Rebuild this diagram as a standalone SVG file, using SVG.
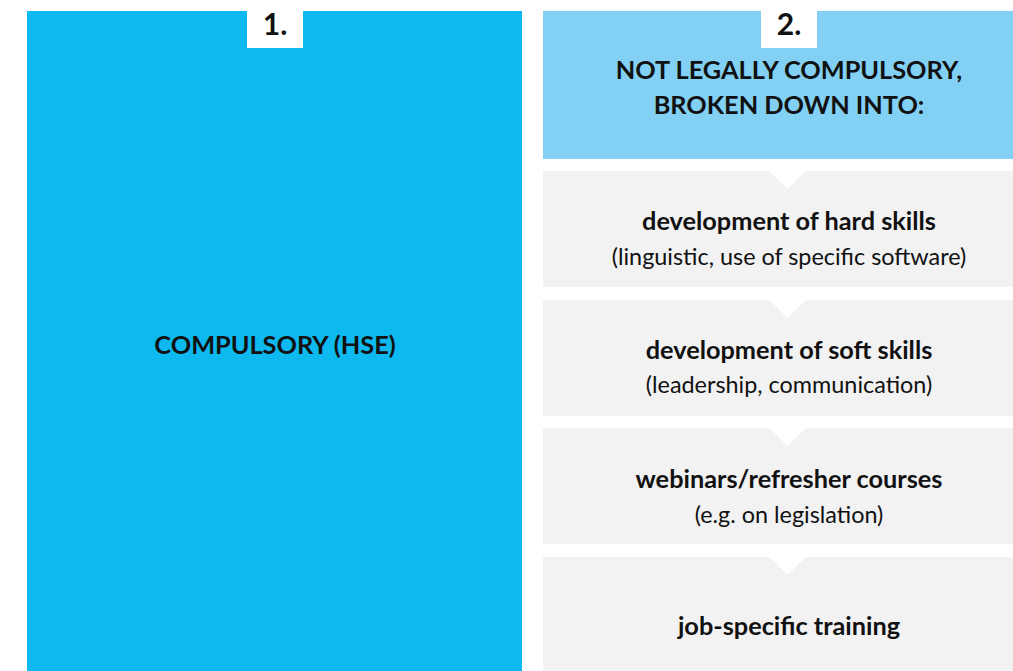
<svg xmlns="http://www.w3.org/2000/svg" width="1013" height="671" viewBox="0 0 1013 671">
<style>
.t{font-family:"Lato","Liberation Sans",sans-serif;fill:#111;text-anchor:middle;font-size:23.4px}
.b{font-weight:700;font-size:25.3px}
.gray{fill:#f2f2f2}
.notch{fill:#ffffff}
</style>
<rect width="1013" height="671" fill="#ffffff"/>
<g id="node-compulsory">
<rect x="27" y="11" width="495" height="660" fill="#0db9ee"/>
<rect x="247" y="0" width="56" height="48" fill="#ffffff"/>
<text class="t b" x="275" y="35" style="font-size:30px">1.</text>
<text class="t b" x="275" y="354">COMPULSORY (HSE)</text>
</g>
<g id="node-not-compulsory">
<rect x="543" y="11" width="470" height="148" fill="#83d0f5"/>
<rect x="761" y="0" width="56" height="48" fill="#ffffff"/>
<text class="t b" x="789" y="35" style="font-size:30px">2.</text>
<text class="t b" x="789" y="79">NOT LEGALLY COMPULSORY,</text>
<text class="t b" x="789" y="114">BROKEN DOWN INTO:</text>
</g>
<g id="node-hard-skills">
<rect class="gray" x="543" y="171" width="470" height="116"/>
<text class="t b" x="789" y="230">development of hard skills</text>
<text class="t" x="789" y="265">(linguistic, use of specific software)</text>
</g>
<g id="node-soft-skills">
<rect class="gray" x="543" y="300" width="470" height="116"/>
<text class="t b" x="789" y="359">development of soft skills</text>
<text class="t" x="789" y="393">(leadership, communication)</text>
</g>
<g id="node-webinars">
<rect class="gray" x="543" y="428" width="470" height="116"/>
<text class="t b" x="789" y="488">webinars/refresher courses</text>
<text class="t" x="789" y="523">(e.g. on legislation)</text>
</g>
<g id="node-job-specific">
<rect class="gray" x="543" y="557" width="470" height="114"/>
<text class="t b" x="789" y="635">job-specific training</text>
</g>
<g id="connectors">
<polygon class="notch" points="769,171 806,171 787.5,189"/>
<polygon class="notch" points="769,300 806,300 787.5,318"/>
<polygon class="notch" points="769,428 806,428 787.5,446"/>
<polygon class="notch" points="769,557 806,557 787.5,575"/>
</g>
</svg>
